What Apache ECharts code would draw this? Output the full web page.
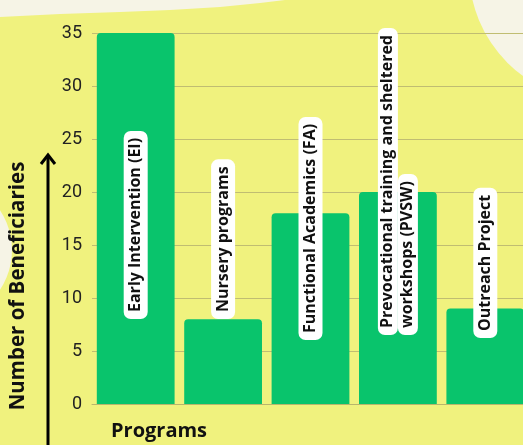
<!DOCTYPE html>
<html>
<head>
<meta charset="utf-8">
<script src="https://cdn.jsdelivr.net/npm/echarts@6/dist/echarts.min.js"></script>
<style>
html,body{margin:0;padding:0;}
#chart{width:523px;height:445px;}
</style>
</head>
<body>
<div id="chart"></div>
<script>
const categories = ['Early Intervention (EI)', 'Nursery programs', 'Functional Academics (FA)', 'Prevocational training and sheltered\nworkshops (PVSW)', 'Outreach Project'];
const beneficiaries = [35, 8, 18, 20, 9];
const yMin = 0, yMax = 35, yStep = 5;
const yTitle = 'Number of Beneficiaries';
const xTitle = 'Programs';

// label lift above the bar base (layout only)
const labelLift = [85, 85, 64, 69, 66];

const chart = echarts.init(document.getElementById('chart'));
const option = {
  backgroundColor: '#f0f27e',
  animation: false,
  grid: { left: 92, width: 437, top: 33, bottom: 41, outerBoundsMode: 'none', containLabel: false },
  xAxis: {
    type: 'category',
    data: categories,
    axisLine: { show: true, lineStyle: { color: '#b9b66c', width: 1 } },
    axisTick: { show: false },
    axisLabel: { show: false }
  },
  yAxis: {
    type: 'value',
    min: yMin, max: yMax, interval: yStep,
    axisLine: { show: false },
    axisTick: { show: false },
    axisLabel: { color: '#222', fontSize: 18, fontFamily: 'Roboto', margin: 10 },
    splitLine: { lineStyle: { color: '#c0bd72', width: 1 } }
  },
  series: [{
    type: 'bar',
    barCategoryGap: '11%',
    itemStyle: { color: '#09c46c', borderRadius: [4, 4, 0, 0] },
    data: beneficiaries.map((v, i) => ({ value: v, label: { distance: labelLift[i] } })),
    label: {
      show: true,
      position: 'insideBottom',
      rotate: 90,
      align: 'left',
      verticalAlign: 'middle',
      formatter: p => {
        const lines = p.name.split('\n');
        const st = lines.length > 1 ? 'm' : 'b';
        return lines.map(s => '{' + st + '|' + s + '}').join('\n');
      },
      rich: {
        b: {
          backgroundColor: '#ffffff', color: '#111', fontSize: 16, lineHeight: 20,
          fontWeight: 'bold', fontFamily: 'Open Sans', padding: [4, 7], borderRadius: 7
        },
        m: {
          backgroundColor: '#ffffff', color: '#111', fontSize: 16, lineHeight: 20,
          fontWeight: 'bold', fontFamily: 'Open Sans', padding: [2, 7], borderRadius: 7
        }
      }
    }
  }],
  graphic: [
    { type: 'polygon', z: -10, shape: { points: [[0, 0], [285, 0], [260, 3], [220, 7], [170, 10], [120, 12], [60, 14], [0, 17]] }, style: { fill: '#f6f4e6' } },
    { type: 'circle', z: -10, shape: { cx: 600, cy: -30, r: 131 }, style: { fill: '#f6f4e6' } },
    { type: 'circle', z: -10, shape: { cx: -60, cy: 250, r: 72 }, style: { fill: '#f6f4e6' } },
    { type: 'line', z: 5, shape: { x1: 48, y1: 445, x2: 48, y2: 155 }, style: { stroke: '#000', lineWidth: 3 } },
    { type: 'polyline', z: 5, shape: { points: [[41, 164], [48, 155], [55, 164]] }, style: { stroke: '#000', lineWidth: 3, fill: null } },
    { type: 'text', z: 5, x: 18, y: 286, rotation: Math.PI / 2,
      style: { text: yTitle, fill: '#111', font: 'bold 20.5px "Open Sans"', align: 'center', verticalAlign: 'middle' } },
    { type: 'text', z: 5, x: 111, y: 431,
      style: { text: xTitle, fill: '#111', font: 'bold 20px "Open Sans"', align: 'left', verticalAlign: 'middle' } }
  ]
};
chart.setOption(option);
</script>
</body>
</html>
